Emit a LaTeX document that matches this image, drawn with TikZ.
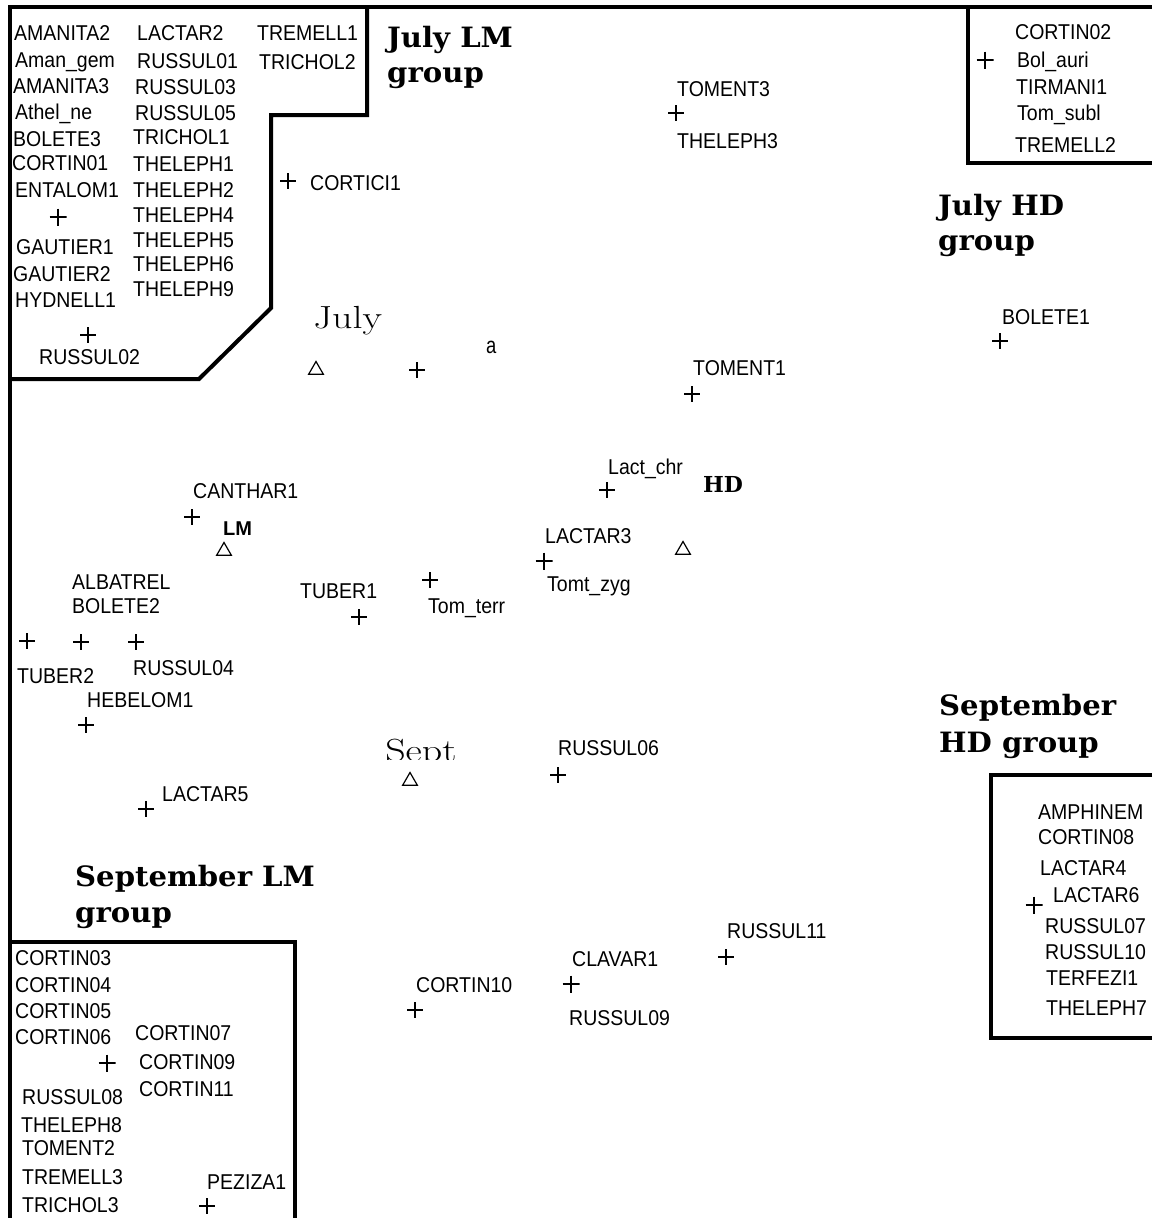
\documentclass[tikz,border=0pt]{standalone}
\usepackage{fontspec}
\setsansfont{Liberation Sans}
\newfontfamily\ttlfont{DejaVu Serif}
\usetikzlibrary{shapes.geometric}
\begin{document}
\begin{tikzpicture}[x=1pt,y=-1pt,
  lab/.style={font=\sffamily\fontsize{19.5}{19.5}\selectfont, anchor=west, inner sep=0pt, text height=14pt, text depth=0pt, yscale=1.1},
  ttl/.style={font=\ttlfont\bfseries\fontsize{28}{28}\selectfont, anchor=base west, inner sep=0pt, xscale=1.04},
  serifw/.style={font=\fontsize{32}{32}\selectfont, anchor=base west, inner sep=0pt, xscale=1.25},
  border/.style={line width=4pt, line join=miter},
  mk/.style={inner sep=0pt, minimum size=16pt, path picture={\draw[line width=1.3pt] (path picture bounding box.north) -- (path picture bounding box.south) (path picture bounding box.west) -- (path picture bounding box.east);}},
  mkb/.style={inner sep=0pt, minimum size=17pt, path picture={\draw[line width=2pt] (path picture bounding box.north) -- (path picture bounding box.south) (path picture bounding box.west) -- (path picture bounding box.east);}},
  tri/.style={draw, regular polygon, regular polygon sides=3, minimum size=17pt, inner sep=0pt, line width=1.2pt}
]
\useasboundingbox (0,0) rectangle (1152,1218);
\clip (0,0) rectangle (1152,1218);

% borders
\draw[border] (9.5,1218) -- (9.5,7) -- (1152,7);
\draw[border] (367,7) -- (367,115) -- (271,115) -- (271,308) -- (199,379) -- (9.5,379);
\draw[border] (968,7) -- (968,163) -- (1152,163);
\draw[border] (9.5,942) -- (295,942) -- (295,1218);
\draw[border] (1152,775) -- (991,775) -- (991,1038) -- (1152,1038);

% July LM group box
\node[lab] (amanita2) at (14,33) {AMANITA2};
\node[lab] (amangem) at (15,60) {Aman\_gem};
\node[lab] (amanita3) at (13,86) {AMANITA3};
\node[lab] (athelne) at (15,112) {Athel\_ne};
\node[lab] (bolete3) at (13,139) {BOLETE3};
\node[lab] (cortin01) at (12,163) {CORTIN01};
\node[lab] (entalom1) at (15,190) {ENTALOM1};
\node[mkb] (p1) at (58,217) {};
\node[lab] (gautier1) at (16,247) {GAUTIER1};
\node[lab] (gautier2) at (13,274) {GAUTIER2};
\node[lab] (hydnell1) at (15,300) {HYDNELL1};
\node[mk] (p2) at (88,335) {};
\node[lab] (russul02) at (39,357) {RUSSUL02};
\node[lab] (lactar2) at (137,33) {LACTAR2};
\node[lab] (russul01) at (137,61) {RUSSUL01};
\node[lab] (russul03) at (135,87) {RUSSUL03};
\node[lab] (russul05) at (135,113) {RUSSUL05};
\node[lab] (trichol1) at (133,137) {TRICHOL1};
\node[lab] (theleph1) at (133,164) {THELEPH1};
\node[lab] (theleph2) at (133,190) {THELEPH2};
\node[lab] (theleph4) at (133,215) {THELEPH4};
\node[lab] (theleph5) at (133,240) {THELEPH5};
\node[lab] (theleph6) at (133,264) {THELEPH6};
\node[lab] (theleph9) at (133,289) {THELEPH9};
\node[lab] (tremell1) at (257,33) {TREMELL1};
\node[lab] (trichol2) at (259,62) {TRICHOL2};

% titles
\node[ttl] (jlm1) at (387,47) {July LM};
\node[ttl] (jlm2) at (387,82) {group};
\node[ttl] (jhd1) at (938,215) {July HD};
\node[ttl] (jhd2) at (938,250) {group};
\node[ttl] (shd1) at (939,715) {September};
\node[ttl] (shd2) at (939,752) {HD group};
\node[ttl] (slm1) at (75,886) {September LM};
\node[ttl] (slm2) at (75,922) {group};

% July HD box
\node[lab] (cortin02) at (1015,32) {CORTIN02};
\node[mkb] (p3) at (985,60) {};
\node[lab] (bolauri) at (1017,60) {Bol\_auri};
\node[lab] (tirmani1) at (1016,87) {TIRMANI1};
\node[lab] (tomsubl) at (1017,113) {Tom\_subl};
\node[lab] (tremell2) at (1015,145) {TREMELL2};

% free points, upper part
\node[mk] (p4) at (288,181) {};
\node[lab] (cortici1) at (310,183) {CORTICI1};
\node[lab] (toment3) at (677,89) {TOMENT3};
\node[mk] (p5) at (676,113) {};
\node[lab] (theleph3) at (677,141) {THELEPH3};
\node[lab] (bolete1) at (1002,317) {BOLETE1};
\node[mk] (p6) at (1000,341) {};
\node[serifw] (july) at (313,328) {July};
\node[tri] (t1) at (316,370) {};
\node[mk] (p7) at (417,370) {};
\node[inner sep=0pt, anchor=base west, font=\sffamily\fontsize{23}{23}\selectfont, xscale=0.8] (a) at (486,353) {a};
\node[lab] (toment1) at (693,368) {TOMENT1};
\node[mk] (p8) at (692,394) {};

% middle
\node[lab] (canthar1) at (193,491) {CANTHAR1};
\node[mk] (p9) at (192,517) {};
\node[inner sep=0pt, anchor=base west, font=\sffamily\bfseries\fontsize{20}{20}\selectfont] (lm) at (223,535) {LM};
\node[tri] (t2) at (224,551) {};
\node[lab] (albatrel) at (72,582) {ALBATREL};
\node[lab] (bolete2) at (72,606) {BOLETE2};
\node[mk] (p10) at (27,641) {};
\node[mk] (p11) at (81,642) {};
\node[mk] (p12) at (136,642) {};
\node[lab] (tuber2) at (17,676) {TUBER2};
\node[lab] (russul04) at (133,668) {RUSSUL04};
\node[lab] (hebelom1) at (87,700) {HEBELOM1};
\node[mk] (p13) at (86,725) {};
\node[lab] (lactar5) at (162,794) {LACTAR5};
\node[mk] (p14) at (146,809) {};
\node[lab] (tuber1) at (300,591) {TUBER1};
\node[mk] (p15) at (359,617) {};
\node[mk] (p16) at (430,580) {};
\node[lab] (tomterr) at (428,606) {Tom\_terr};
\node[lab] (lactchr) at (608,467) {Lact\_chr};
\node[mk] (p17) at (607,490) {};
\node[inner sep=0pt, anchor=base west, font=\ttlfont\bfseries\fontsize{22}{22}\selectfont] (hd) at (703,492) {HD};
\node[lab] (lactar3) at (545,536) {LACTAR3};
\node[mkb] (p18) at (544,561) {};
\node[lab] (tomtzyg) at (547,584) {Tomt\_zyg};
\node[tri] (t3) at (683,550) {};
\begin{scope}
  \clip (370,720) rectangle (480,759);
  \node[serifw] (sept) at (385,761) {Sept};
\end{scope}
\node[tri] (t4) at (410,781) {};
\node[lab] (russul06) at (558,748) {RUSSUL06};
\node[mk] (p19) at (558,775) {};

% lower
\node[lab] (cortin10) at (416,985) {CORTIN10};
\node[mk] (p20) at (415,1010) {};
\node[lab] (clavar1) at (572,959) {CLAVAR1};
\node[mkb] (p21) at (571,984) {};
\node[lab] (russul09) at (569,1018) {RUSSUL09};
\node[lab] (russul11) at (727,931) {RUSSUL11};
\node[mk] (p22) at (726,957) {};

% September LM box
\node[lab] (cortin03) at (15,958) {CORTIN03};
\node[lab] (cortin04) at (15,985) {CORTIN04};
\node[lab] (cortin05) at (15,1011) {CORTIN05};
\node[lab] (cortin06) at (15,1037) {CORTIN06};
\node[lab] (cortin07) at (135,1033) {CORTIN07};
\node[mkb] (p23) at (107,1063) {};
\node[lab] (cortin09) at (139,1062) {CORTIN09};
\node[lab] (cortin11) at (139,1089) {CORTIN11};
\node[lab] (russul08) at (22,1097) {RUSSUL08};
\node[lab] (theleph8) at (21,1125) {THELEPH8};
\node[lab] (toment2) at (22,1148) {TOMENT2};
\node[lab] (tremell3) at (22,1177) {TREMELL3};
\node[lab] (trichol3) at (22,1205) {TRICHOL3};
\node[lab] (peziza1) at (207,1182) {PEZIZA1};
\node[mk] (p24) at (207,1206) {};

% September HD box
\node[lab] (amphinem) at (1038,812) {AMPHINEM};
\node[lab] (cortin08) at (1038,837) {CORTIN08};
\node[lab] (lactar4) at (1040,868) {LACTAR4};
\node[lab] (lactar6) at (1053,895) {LACTAR6};
\node[mkb] (p25) at (1034,905) {};
\node[lab] (russul07) at (1045,926) {RUSSUL07};
\node[lab] (russul10) at (1045,952) {RUSSUL10};
\node[lab] (terfezi1) at (1046,978) {TERFEZI1};
\node[lab] (theleph7) at (1046,1008) {THELEPH7};
\end{tikzpicture}
\end{document}
